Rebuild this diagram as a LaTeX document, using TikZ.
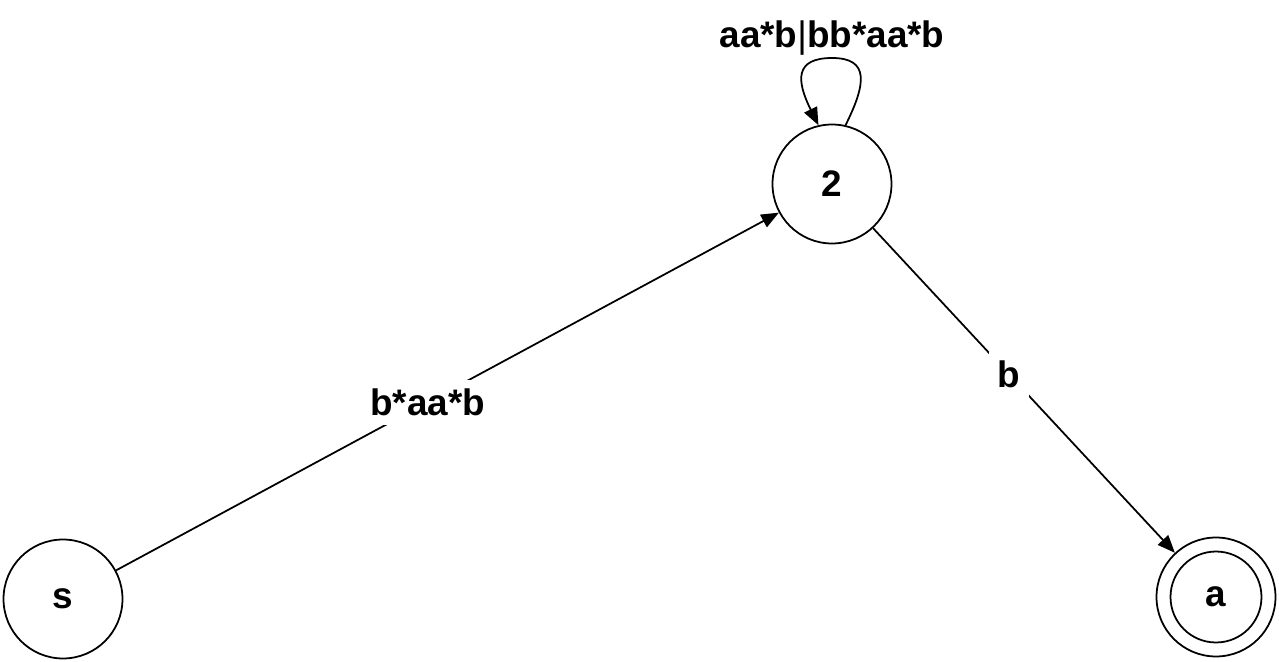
\documentclass[tikz,border=0pt]{standalone}
\usepackage{fontspec}
\setmainfont{Liberation Sans}
\usetikzlibrary{arrows.meta}
\begin{document}
\begin{tikzpicture}[x=0.02cm, y=-0.02cm, line width=1pt,
    every node/.style={font=\fontsize{21}{25}\selectfont\bfseries},
    stnode/.style={circle, draw, minimum size=2.38cm, inner sep=0pt},
    lbl/.style={fill=white, inner sep=5pt},
    >={Triangle[length=10pt, width=8pt]}]
            \useasboundingbox (0,0) rectangle (1279,662);
            \node[stnode] (s) at (63,599) {s};
            \node[stnode] (n2) at (832,184) {2};
            \node[stnode] (a) at (1216,597) {a};
            \node[stnode, minimum size=1.82cm] (ain) at (a) {};
            \draw[->] (s) -- node[lbl, pos=0.47]{b*aa*b} (n2);
            \draw[->] (n2) -- node[lbl, pos=0.45]{b} (a);
            \draw[->] (n2.77) .. controls (866,84) and (870,58) .. (832,58)
                .. controls (795,58) and (796,80) .. (n2.103);
            \node (loop) at (832,38) {aa*b{\mdseries|}bb*aa*b};
        \end{tikzpicture}
\end{document}
